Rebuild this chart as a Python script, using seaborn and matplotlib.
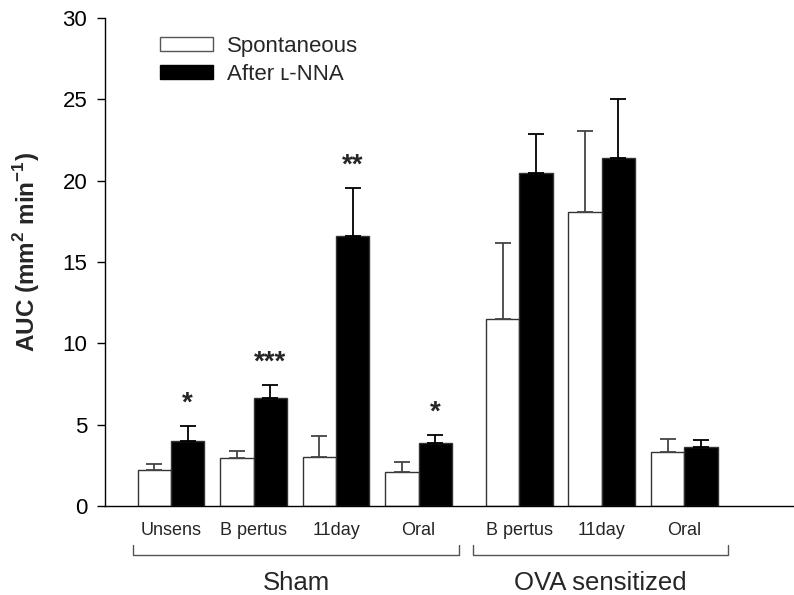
import matplotlib
matplotlib.use("Agg")
import matplotlib.pyplot as plt
import seaborn as sns
import pandas as pd
import numpy as np
from matplotlib.patches import Patch

# ---- data ----
categories = ["Unsens", "B pertus", "11day", "Oral", "B pertus", "11day", "Oral"]
spont = [2.19, 2.95, 3.01, 2.07, 11.47, 18.07, 3.32]
spont_err = [0.37, 0.43, 1.31, 0.63, 4.71, 5.00, 0.78]
lnna = [3.98, 6.64, 16.60, 3.85, 20.49, 21.37, 3.65]
lnna_err = [0.92, 0.78, 2.97, 0.49, 2.35, 3.63, 0.43]
signif = ["*", "***", "**", "*", "", "", ""]
series = ["Spontaneous", "After \u029f-NNA"]
groups = ["Sham", "OVA sensitized"]

# ---- layout ----
xpos = [0, 1, 2, 3, 4.22, 5.22, 6.22]

sns.set_theme(style="white")
plt.rcParams["font.family"] = ["Liberation Sans", "DejaVu Sans"]
plt.rcParams["mathtext.fontset"] = "custom"
plt.rcParams["mathtext.rm"] = "Liberation Sans"
plt.rcParams["mathtext.bf"] = "Liberation Sans:bold"

df = pd.DataFrame({
    "x": xpos * 2,
    "val": spont + lnna,
    "series": [series[0]] * len(spont) + [series[1]] * len(lnna),
})

fig = plt.figure(figsize=(7.94, 5.95), dpi=100)
ax = fig.add_axes([0.1322, 0.1496, 0.8678, 0.8202])

sns.barplot(data=df, x="x", y="val", hue="series", native_scale=True,
            palette={series[0]: "white", series[1]: "black"},
            saturation=1, width=0.81, edgecolor="#333333", linewidth=1.0,
            errorbar=None, legend=False, ax=ax)

# error bars (upper only) placed at bar centres
bars = [p for p in ax.patches if p.get_height() > 0]
bars.sort(key=lambda p: (p.get_facecolor()[0] < 0.5, p.get_x()))
white_bars = bars[:len(spont)]
black_bars = bars[len(spont):]
wx = [p.get_x() + p.get_width() / 2 for p in white_bars]
bx = [p.get_x() + p.get_width() / 2 for p in black_bars]
ax.errorbar(wx, spont, yerr=[np.zeros(len(spont)), spont_err], fmt="none",
            ecolor="#444444", elinewidth=1.3, capsize=5.5, capthick=1.3)
ax.errorbar(bx, lnna, yerr=[np.zeros(len(lnna)), lnna_err], fmt="none",
            ecolor="black", elinewidth=1.3, capsize=5.5, capthick=1.3)

for x, v, e, s in zip(bx, lnna, lnna_err, signif):
    if s:
        ax.text(x, v + e + 0.95, s, ha="center", va="baseline", fontsize=20,
                fontweight="bold")

ax.set_xlim(-0.8, 7.55)
ax.set_ylim(0, 30)
ax.set_yticks([0, 5, 10, 15, 20, 25, 30])
ax.tick_params(axis="y", direction="out", length=5.8, width=1, labelsize=16,
               left=True, pad=7, colors="black")
ax.set_xticks(xpos)
ax.set_xticklabels(categories, fontsize=13)
ax.tick_params(axis="x", length=0, pad=11.5)
ax.set_xlabel("")
ax.set_ylabel(r"AUC (mm$^{\mathbf{2}}$ min$^{\mathbf{-1}}$)", fontsize=17.5,
              fontweight="bold")
ax.yaxis.set_label_coords(-0.091, 0.52)
sns.despine(ax=ax)
for sp in ["left", "bottom"]:
    ax.spines[sp].set_color("black")
    ax.spines[sp].set_linewidth(1.0)

# group brackets
trans = ax.get_xaxis_transform()
bracket_spans = [(xpos[0] - 0.46, xpos[3] + 0.49), (xpos[4] - 0.56, xpos[6] + 0.53)]
for (x0, x1), name in zip(bracket_spans, groups):
    ax.plot([x0, x0, x1, x1], [-0.08, -0.1, -0.1, -0.08], color="#555555",
            lw=1.0, transform=trans, clip_on=False)
    ax.text((x0 + x1) / 2, -0.157, name, ha="center", va="center",
            fontsize=18.5, transform=trans)

handles = [Patch(facecolor="white", edgecolor="#555555", lw=1.0),
           Patch(facecolor="black", edgecolor="black", lw=1.0)]
ax.legend(handles, series, loc="upper left", bbox_to_anchor=(0.0798, 0.963),
          frameon=False, fontsize=16, handlelength=2.4, handleheight=0.63,
          handletextpad=0.63, labelspacing=0.3, borderpad=0, borderaxespad=0)

fig.savefig("out.png", dpi=100, facecolor="white")
